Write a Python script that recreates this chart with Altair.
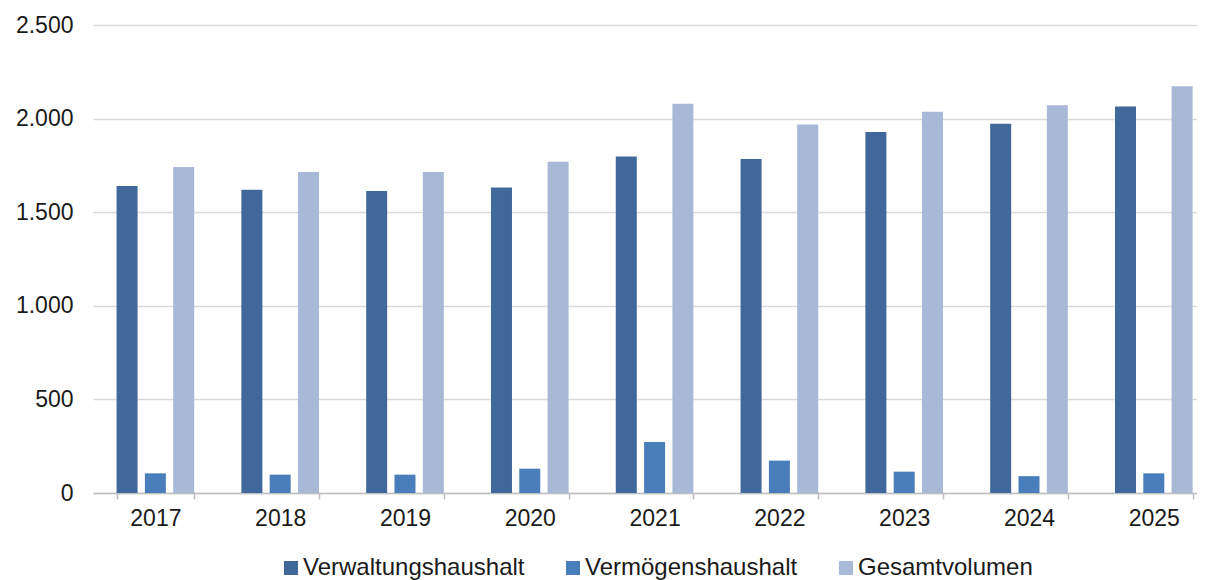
import altair as alt
import pandas as pd

years = ["2017", "2018", "2019", "2020", "2021", "2022", "2023", "2024", "2025"]
verwaltung = [1640, 1620, 1613, 1632, 1798, 1784, 1929, 1972, 2064]
vermoegen = [105, 98, 98, 130, 272, 173, 114, 90, 105]
gesamt = [1741, 1715, 1715, 1770, 2079, 1968, 2036, 2071, 2173]

series = ["Verwaltungshaushalt", "Vermögenshaushalt", "Gesamtvolumen"]
colors = ["#40689A", "#4A7EBB", "#A8B9D8"]

rows = []
for i, y in enumerate(years):
    for s, vals in zip(series, [verwaltung, vermoegen, gesamt]):
        rows.append({"Jahr": y, "Reihe": s, "Wert": vals[i]})
df = pd.DataFrame(rows)

FONT = "Liberation Sans"
FS = 23

chart = (
    alt.Chart(df)
    .mark_bar()
    .encode(
        x=alt.X(
            "Jahr:N",
            sort=years,
            title=None,
            scale=alt.Scale(paddingInner=0.378, paddingOuter=0.112, align=0.843),
            axis=alt.Axis(
                labelAngle=0,
                labelFontSize=FS,
                labelFont=FONT,
                labelColor="#1a1a1a",
                labelPadding=8,
                tickBand="extent",
                tickSize=6,
                tickColor="#BFBFBF",
                tickWidth=1.5,
                domain=True,
                domainColor="#BFBFBF",
                domainWidth=1.5,
                grid=False,
            ),
        ),
        xOffset=alt.XOffset(
            "Reihe:N",
            sort=series,
            scale=alt.Scale(paddingInner=0.258, paddingOuter=0),
        ),
        y=alt.Y(
            "Wert:Q",
            title=None,
            scale=alt.Scale(domain=[0, 2500], nice=False),
            axis=alt.Axis(
                values=[0, 500, 1000, 1500, 2000, 2500],
                labelExpr="replace(format(datum.value, ','), ',', '.')",
                labelFontSize=FS,
                labelFont=FONT,
                labelColor="#1a1a1a",
                labelPadding=20,
                ticks=False,
                domain=False,
                grid=True,
                gridColor="#D9D9D9",
                gridWidth=1.5,
            ),
        ),
        color=alt.Color(
            "Reihe:N",
            sort=series,
            scale=alt.Scale(domain=series, range=colors),
            legend=alt.Legend(
                title=None,
                orient="none",
                direction="horizontal",
                legendX=186,
                legendY=531,
                symbolType="square",
                symbolSize=196,
                symbolStrokeWidth=0,
                labelFontSize=24,
                labelFont=FONT,
                labelColor="#1a1a1a",
                labelOffset=0,
                labelLimit=0,
                columnPadding=36,
                padding=0,
            ),
        ),
    )
    .properties(
        width=1104,
        height=468,
        autosize=alt.AutoSizeParams(type="none"),
        padding={"left": 85, "top": 17, "right": 0, "bottom": 87},
        view=alt.ViewBackground(strokeWidth=0, stroke="transparent"),
    )
    .configure_view(stroke=None, strokeWidth=0)
    .configure(background="white")
)

chart.save("out.html", embed_options={"renderer": "svg", "actions": False})
